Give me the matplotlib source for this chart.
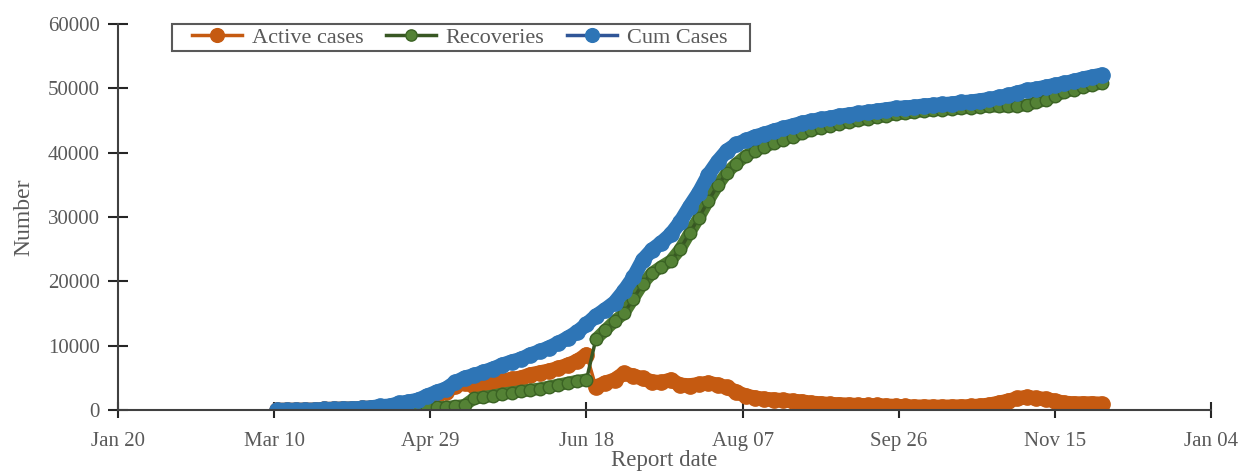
import matplotlib
matplotlib.use("Agg")
import matplotlib.pyplot as plt
import matplotlib.dates as mdates
from matplotlib.patches import Rectangle
import pandas as pd

# report dates: every 3 days from Mar 11 to Nov 30, 2020
dates = pd.date_range("2020-03-11", "2020-11-30", freq="3D")

cum_cases = [2, 6, 9, 19, 27, 132, 152, 195, 214, 287,
             378, 566, 641, 1042, 1279, 1550, 2200, 2800, 3300, 4300,
             5000, 5400, 5900, 6400, 7000, 7500, 7900, 8600, 9100, 9700,
             10400, 11200, 12100, 13300, 14600, 15600, 16700, 18500, 20600, 23300,
             24900, 26000, 27300, 29200, 31600, 33800, 36500, 38600, 40300, 41300,
             41900, 42500, 42900, 43400, 43800, 44200, 44600, 44900, 45200, 45400,
             45700, 45900, 46100, 46300, 46500, 46700, 46900, 47000, 47100, 47300,
             47400, 47500, 47600, 47800, 47900, 48100, 48300, 48600, 48900, 49300,
             49700, 49900, 50200, 50500, 50800, 51100, 51500, 51800, 52100]

recoveries = [0, 0, 0, 0, 0, 0, 1, 3, 4, 10,
              30, 60, 100, 150, 180, 220, 300, 400, 450, 550,
              750, 1800, 2000, 2200, 2500, 2700, 2900, 3100, 3300, 3600,
              3900, 4200, 4500, 4700, 11000, 12400, 13800, 15000, 17300, 19600,
              21300, 22300, 23200, 25000, 27500, 29900, 32500, 34900, 36900, 38300,
              39500, 40300, 40900, 41500, 42000, 42500, 43000, 43500, 43900, 44200,
              44500, 44800, 45000, 45300, 45500, 45700, 46000, 46100, 46300, 46500,
              46600, 46700, 46800, 46900, 47000, 47100, 47200, 47200, 47200, 47250,
              47400, 47800, 48200, 48800, 49400, 49800, 50200, 50500, 50800]

active_cases = [2, 6, 9, 19, 27, 130, 150, 190, 205, 270,
                340, 500, 530, 880, 1080, 1310, 1880, 2380, 2830, 3730,
                4230, 3700, 3900, 4200, 4500, 4800, 5000, 5500, 5800, 6100,
                6500, 7000, 7600, 8600, 3600, 4200, 4700, 5700, 5300, 4900,
                4400, 4300, 4700, 3900, 3800, 4000, 4200, 3900, 3500, 2800,
                2200, 1900, 1700, 1600, 1500, 1400, 1300, 1100, 1000, 900,
                850, 800, 750, 700, 700, 650, 600, 550, 500, 500,
                480, 480, 500, 520, 550, 650, 800, 1100, 1400, 1800,
                2000, 1800, 1700, 1400, 1100, 1000, 1000, 1000, 950]

# index where the Jun 18 data revision starts (recoveries jump, active drops)
revision = 34

tick_dates = pd.date_range("2020-01-20", periods=8, freq="50D")

plt.rcParams['font.family'] = ['Liberation Serif', 'DejaVu Serif']
grey = '#595959'


def band(ax, x, y, color, width, breaks=()):
    # thick line under the markers so the daily dots read as one band
    cuts = [0] + list(breaks) + [len(y)]
    for a, b in zip(cuts[:-1], cuts[1:]):
        ax.plot(x[a:b], y[a:b], color=color, linewidth=width,
                solid_capstyle='round', solid_joinstyle='round')


fig = plt.figure(figsize=(12.44, 4.72), dpi=100)
ax = fig.add_axes([0.0949, 0.1314, 0.8786, 0.8178])

band(ax, dates, active_cases, '#C55A11', 10.5, [revision])
ax.plot(dates, active_cases, color='#C55A11', linewidth=2.5, marker='o', markersize=11,
        markerfacecolor='#C55A11', markeredgecolor='#C55A11', label='Active cases')
band(ax, dates, recoveries, '#4E7A30', 9, [revision])
ax.plot(dates, recoveries, color='#385723', linewidth=2.5, marker='o', markersize=9,
        markerfacecolor='#548235', markeredgecolor='#3B6324', label='Recoveries')
band(ax, dates, cum_cases, '#2E75B6', 10.5)
ax.plot(dates, cum_cases, color='#2E75B6', linewidth=2.5, marker='o', markersize=11,
        markerfacecolor='#2E75B6', markeredgecolor='#2E75B6', label='Cum Cases')

ax.set_xlim(tick_dates[0], tick_dates[-1])
ax.set_ylim(0, 60000)
ax.set_xticks(tick_dates)
ax.xaxis.set_major_formatter(mdates.DateFormatter('%b %d'))
ax.set_yticks(range(0, 60001, 10000))

for side in ['top', 'right']:
    ax.spines[side].set_visible(False)
for side in ['left', 'bottom']:
    ax.spines[side].set_color('#404040')
    ax.spines[side].set_linewidth(1.5)

ax.tick_params(axis='y', direction='inout', length=14, width=1.5, color='#262626',
               labelsize=15, labelcolor=grey, pad=6)
ax.tick_params(axis='x', direction='inout', length=12, width=1.5, color='#262626',
               labelsize=15, labelcolor=grey, pad=10)

ax.set_xlabel('Report date', fontsize=16.5, color=grey, labelpad=-1)
ax.set_ylabel('Number', fontsize=17, color=grey, labelpad=10)

# legend box drawn separately so the inner padding can match
fig.patches.append(Rectangle((172 / 1244, 1 - 51 / 472), 578 / 1244, 27 / 472,
                             transform=fig.transFigure, fill=False,
                             edgecolor=grey, linewidth=1.5, zorder=5))
leg = ax.legend(loc='center left', bbox_to_anchor=(192 / 1244, 1 - 37.5 / 472),
                bbox_transform=fig.transFigure, ncol=3, fontsize=16,
                frameon=False, borderaxespad=0, borderpad=0, handlelength=2.25,
                handletextpad=0.45, columnspacing=1.0, markerscale=0.9)
for t in leg.get_texts():
    t.set_color(grey)
leg.legend_handles[2].set_color('#2F5597')

fig.savefig('out.png', dpi=100)
